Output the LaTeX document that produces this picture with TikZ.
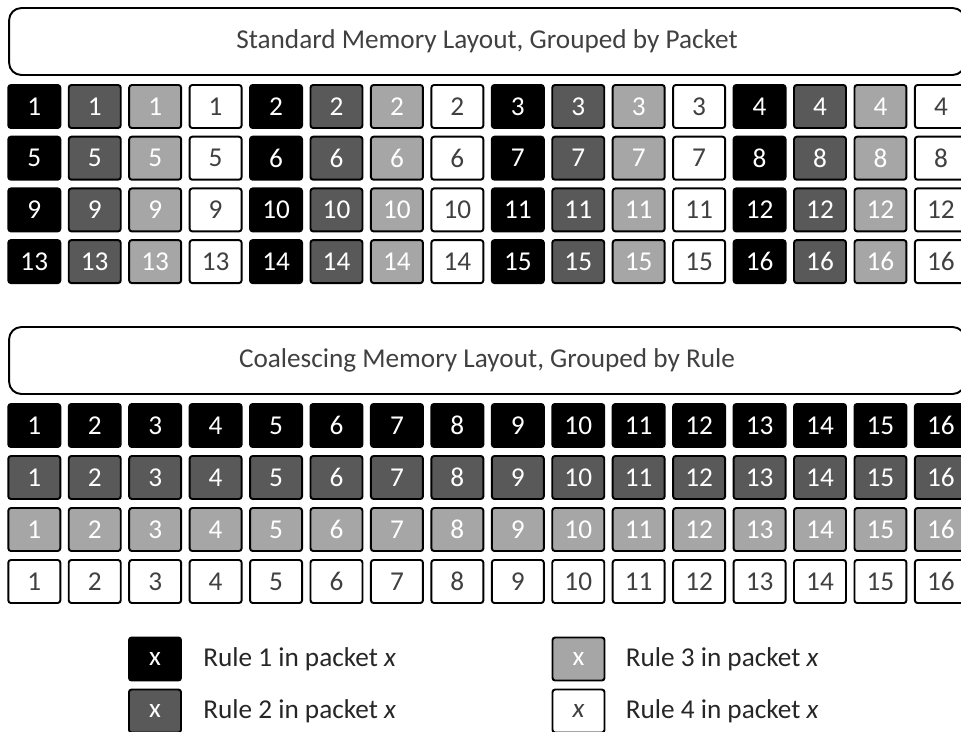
\documentclass[tikz,border=0pt]{standalone}
\usepackage{fontspec}
\setmainfont{Carlito}
\usepackage{xcolor}
\usetikzlibrary{positioning}

\definecolor{ruletwo}{HTML}{595959}
\definecolor{rulethree}{HTML}{A6A6A6}
\definecolor{textgray}{HTML}{404040}

\tikzset{
    cell/.style={draw=black, line width=1.1pt, rounded corners=1.5pt,
        minimum width=1.04cm, minimum height=0.86cm, inner sep=0pt,
        font=\fontsize{15.5}{18}\selectfont},
    banner/.style={draw=black, line width=1.1pt, rounded corners=7pt,
        minimum width=19.12cm, minimum height=1.34cm, text=textgray,
        font=\fontsize{15.5}{18}\selectfont},
    keytext/.style={inner sep=0pt, text=black!85,
        font=\fontsize{15.5}{18}\selectfont}
}

\begin{document}
\begin{tikzpicture}[x=0.02cm, y=-0.02cm]

    % Page size of the reference (pixels), right and bottom edges are cut
    \useasboundingbox (0,0) rectangle (961,731);
    \clip (0,0) rectangle (961,731);

    % --- STANDARD LAYOUT ---
    \node[banner] (stdtitle) at (487,41.5) {Standard Memory Layout, Grouped by Packet};

    % 4 rows, 4 packets per row, 4 rules per packet
    \foreach \r in {0,...,3}
      \foreach \g in {0,...,3}
        \foreach \k/\fc/\tc in {0/black/white, 1/ruletwo/white, 2/rulethree/white, 3/white/textgray} {
          \pgfmathtruncatemacro{\p}{4*\r+\g+1}
          \node[cell, fill=\fc, text=\tc] (std-\p-\k)
              at ({34.3+60.44*(4*\g+\k)}, {106.5+51.7*\r}) {\p};
        }

    % --- COALESCING LAYOUT ---
    \node[banner] (coaltitle) at (487,360.5) {Coalescing Memory Layout, Grouped by Rule};

    % one row per rule, one column per packet
    \foreach \k/\fc/\tc in {0/black/white, 1/ruletwo/white, 2/rulethree/white, 3/white/textgray}
      \foreach \p in {1,...,16} {
        \node[cell, fill=\fc, text=\tc] (coal-\k-\p)
            at ({34.3+60.44*(\p-1)}, {425.5+52*\k}) {\p};
      }

    % --- LEGEND ---
    \node[cell, fill=black, text=white] (key1) at (155,659) {x};
    \node[cell, fill=ruletwo, text=white] (key2) at (155,711) {x};
    \node[cell, fill=rulethree, text=white] (key3) at (578.5,659) {x};
    \node[cell, fill=white, text=textgray] (key4) at (578.5,711) {\textit{x}};

    \node[keytext, right=0.42cm of key1] (keytext1) {Rule 1 in packet \textit{x}};
    \node[keytext, right=0.42cm of key2] (keytext2) {Rule 2 in packet \textit{x}};
    \node[keytext, right=0.4cm of key3] (keytext3) {Rule 3 in packet \textit{x}};
    \node[keytext, right=0.4cm of key4] (keytext4) {Rule 4 in packet \textit{x}};

\end{tikzpicture}
\end{document}
